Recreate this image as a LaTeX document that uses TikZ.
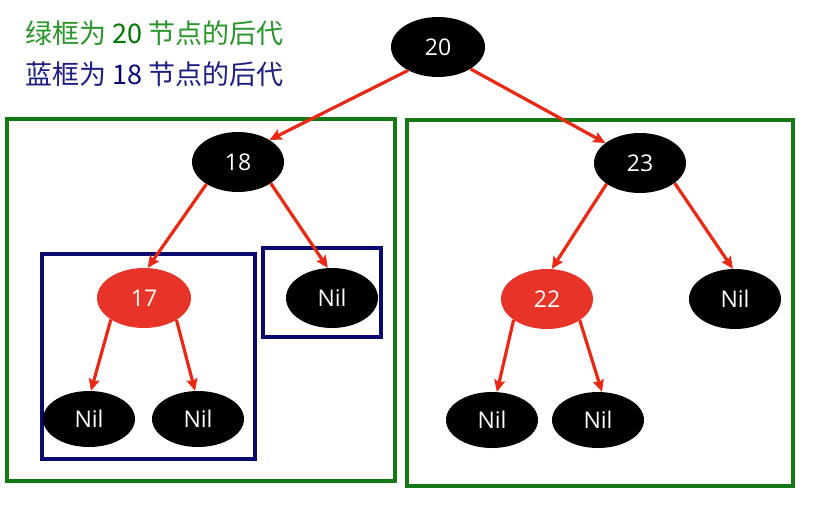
\documentclass[tikz,border=0pt]{standalone}
\usepackage{fontspec}
\setmainfont{Open Sans}
\newfontfamily\cjk{Noto Sans CJK SC}
\usetikzlibrary{shapes.geometric,arrows.meta}
\definecolor{rbred}{RGB}{232,52,40}
\definecolor{arred}{RGB}{235,40,20}
\definecolor{boxgreen}{RGB}{20,120,20}
\definecolor{txtgreen}{RGB}{40,150,40}
\definecolor{numgreen}{RGB}{0,120,0}
\definecolor{boxnavy}{RGB}{10,10,110}
\definecolor{txtnavy}{RGB}{30,30,130}
\definecolor{numnavy}{RGB}{0,0,120}
\begin{document}
\begin{tikzpicture}[x=1pt,y=-1pt,
  blk/.style={ellipse,fill=black,text=white,minimum width=92pt,minimum height=60pt,inner sep=0pt,font=\fontsize{23}{26}\selectfont},
  rd/.style={blk,fill=rbred},
  nilnode/.style={blk,minimum height=56pt},
  edge/.style={draw=arred,line width=3.2pt,-{Stealth[length=12pt,width=11pt,inset=2pt]}},
  gbox/.style={draw=boxgreen,line width=3.2pt},
  nbox/.style={draw=boxnavy,line width=3.2pt}]
\useasboundingbox (0,0) rectangle (813,504);
\fill[white] (0,0) rectangle (813,504);
% frames
\draw[gbox] (7,119) rectangle (395,481);
\draw[gbox] (407,120) rectangle (793,486);
\draw[nbox] (42,254) rectangle (255,459);
\draw[nbox] (263,248) rectangle (381,337);
% nodes
\node[blk,minimum width=94pt] (n20) at (438,47) {20};
\node[blk] (n18) at (238,162) {18};
\node[blk] (n23) at (640,163) {23};
\node[rd,minimum width=94pt] (n17) at (144,298) {17};
\node[blk] (nilA) at (332,298) {Nil};
\node[rd] (n22) at (547,299) {22};
\node[blk] (nilB) at (735,299) {Nil};
\node[nilnode] (nilC) at (89,419) {Nil};
\node[nilnode] (nilD) at (198,419) {Nil};
\node[nilnode] (nilE) at (492,420) {Nil};
\node[nilnode] (nilF) at (598,420) {Nil};
% edges
\draw[edge] (n20.218) -- (n18.35);
\draw[edge] (n20.326) -- (n23.150);
\draw[edge] (n18.215) -- (n17.83);
\draw[edge] (n18.327) -- (nilA.98);
\draw[edge] (n23.212) -- (n22.81);
\draw[edge] (n23.330) -- (nilB.94);
\draw[edge] (n17.213) -- (nilC.86);
\draw[edge] (n17.326) -- (nilD.96);
\draw[edge] (n22.212) -- (nilE.80);
\draw[edge] (n22.327) -- (nilF.82);
% legend
\node[anchor=west,inner sep=0pt,text=txtgreen,font=\fontsize{27}{30}\selectfont] (t1) at (25,33) {\cjk 绿框为 \textcolor{numgreen}{20} 节点的后代};
\node[anchor=west,inner sep=0pt,text=txtnavy,font=\fontsize{27}{30}\selectfont] (t2) at (25,74) {\cjk 蓝框为 \textcolor{numnavy}{18} 节点的后代};
\end{tikzpicture}
\end{document}
